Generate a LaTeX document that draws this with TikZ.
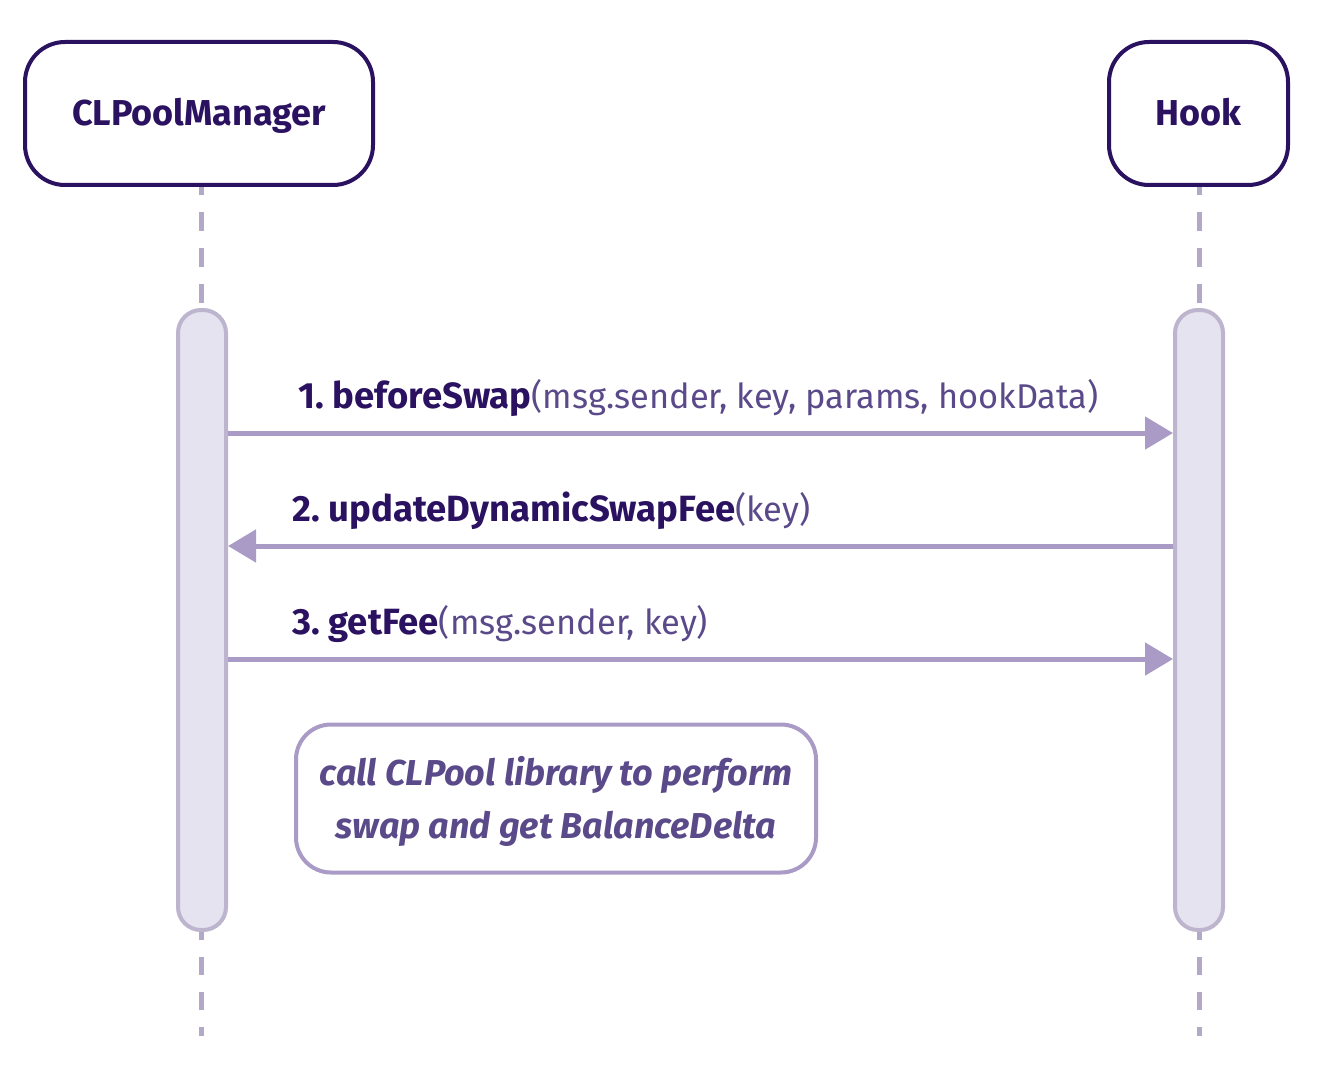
\documentclass[tikz,border=0pt]{standalone}
\usepackage{fontspec}
\setmainfont{Fira Sans}
\usetikzlibrary{arrows.meta}
\definecolor{navy}{HTML}{2A1261}
\definecolor{txtp}{HTML}{5B4A8A}
\definecolor{arr}{HTML}{A99BC5}
\definecolor{lifel}{HTML}{B3A8C8}
\definecolor{barfill}{HTML}{E6E3F0}
\definecolor{barline}{HTML}{BDB5CD}
\newcommand{\boldpart}[1]{\textcolor{navy}{\fontsize{36.5}{40}\selectfont\bfseries #1}}
\tikzset{
  actor/.style={draw=navy, line width=4pt, rounded corners=40pt, fill=white, inner sep=0pt},
  actlabel/.style={inner sep=0pt, text height=25pt, text depth=0pt, text=navy,
    font=\fontsize{36}{40}\selectfont\bfseries},
  actbar/.style={draw=barline, fill=barfill, line width=4pt, rounded corners=23pt, minimum width=48pt, inner sep=0pt},
  lifeline/.style={draw=lifel, line width=5pt, dash pattern=on 19pt off 17pt},
  msg/.style={draw=arr, line width=5pt, -{Triangle[length=28pt,width=32pt]}},
  msglabel/.style={anchor=base west, inner sep=0pt, text=txtp, font=\fontsize{34.4}{40}\selectfont},
  notebox/.style={draw=arr, line width=4pt, rounded corners=35pt, fill=white, inner sep=0pt,
    minimum width=520pt, minimum height=148pt},
  notetext/.style={align=center, inner sep=0pt, text=txtp,
    font=\fontsize{36}{53}\selectfont\itshape\bfseries}
}
\begin{document}
\begin{tikzpicture}[x=1pt,y=-1pt]
\useasboundingbox (0,0) rectangle (1324,1086);
% actors
\node[actor, minimum width=348pt, minimum height=143pt] (mgr) at (199,113.5) {};
\node[actlabel] (mgrt) at (mgr.center) {CLPoolManager};
\node[actor, minimum width=179pt, minimum height=143pt] (hook) at (1198.5,113.5) {};
\node[actlabel] (hookt) at (hook.center) {Hook};
% activation bars
\node[actbar, minimum height=620pt] (mbar) at (202,620) {};
\node[actbar, minimum height=620pt] (hbar) at (1199,620) {};
% lifelines
\coordinate (mtop) at (201,187);
\coordinate (mbot) at (201,1036);
\coordinate (htop) at (1199,187);
\coordinate (hbot) at (1199,1036);
\draw[lifeline, dash phase=11pt] (mtop) -- (mtop |- mbar.north);
\draw[lifeline, dash phase=11pt] (htop) -- (htop |- hbar.north);
\draw[lifeline, dash pattern=on 18pt off 17pt, dash phase=9pt] (mbot) -- (mbot |- mbar.south);
\draw[lifeline, dash pattern=on 18pt off 17pt, dash phase=9pt] (hbot) -- (hbot |- hbar.south);
% messages
\coordinate (m1) at (0,433);
\coordinate (m2) at (0,546);
\coordinate (m3) at (0,659);
\draw[msg] (mbar.east |- m1) -- (hbar.west |- m1);
\draw[msg] (hbar.west |- m2) -- (mbar.east |- m2);
\draw[msg] (mbar.east |- m3) -- (hbar.west |- m3);
\node[msglabel] (l1) at (298,408) {\boldpart{1.\ beforeSwap}(msg.sender, key, params, hookData)};
\node[msglabel] (l2) at (292,521) {\boldpart{2.\ updateDynamicSwapFee}(key)};
\node[msglabel] (l3) at (292,634) {\boldpart{3.\ getFee}(msg.sender, key)};
% note
\node[notebox] (note) at (556,798.5) {};
\node[notetext] (notet) at ([yshift=-3pt]note.center) {call CLPool library to perform\\swap and get BalanceDelta};
\end{tikzpicture}
\end{document}
